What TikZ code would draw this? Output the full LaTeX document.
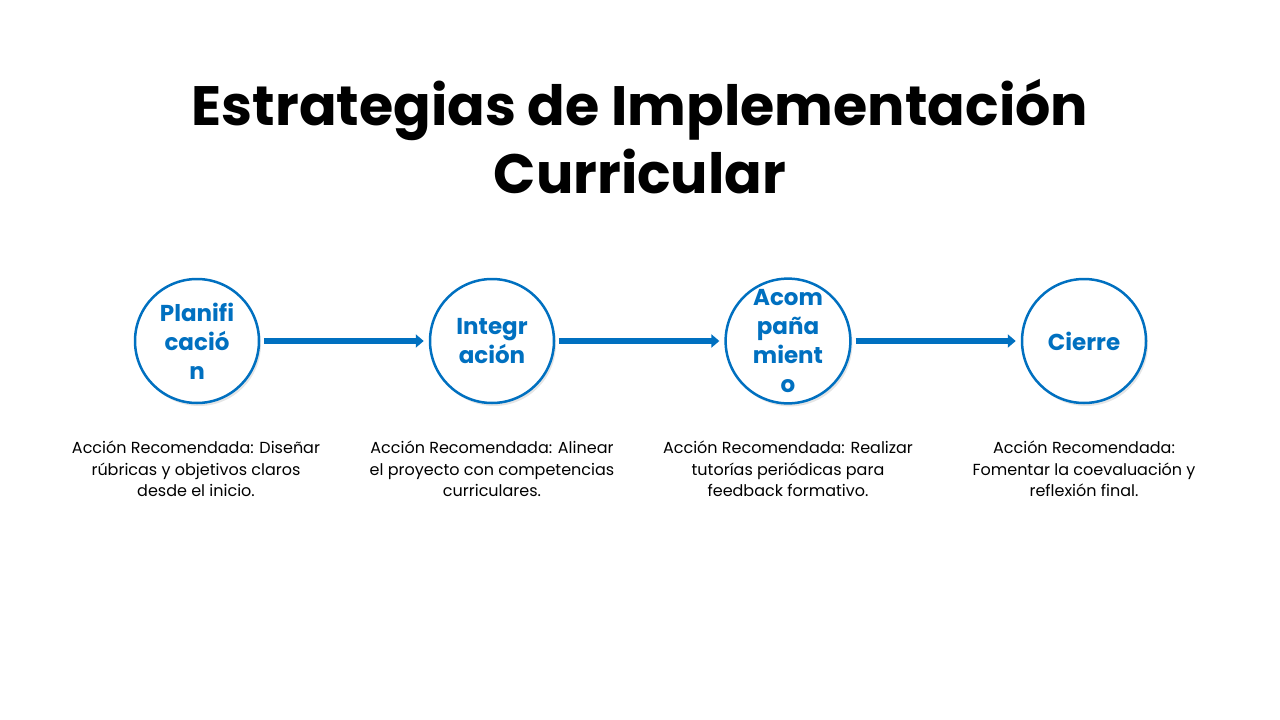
\documentclass[tikz,border=0pt]{standalone}
\usepackage{fontspec}
\setmainfont{Poppins}
\usetikzlibrary{arrows.meta,shadows}
\definecolor{azul}{HTML}{0070C0}
\tikzset{
  etapa/.style={circle, draw=azul, line width=2.5pt, fill=white, minimum size=124pt,
    inner sep=0pt, align=center, text=azul, font=\fontsize{23}{29}\selectfont\bfseries,
    drop shadow={shadow xshift=2pt, shadow yshift=-3pt, fill=black!20}},
  flecha/.style={draw=azul, line width=6.5pt, shorten <=4pt, shorten >=5pt,
    -{Triangle[length=8pt,width=13pt]}},
  accion/.style={align=center, font=\fontsize{16}{21.5}\selectfont}
}
\begin{document}
\begin{tikzpicture}[x=1pt,y=-1pt]
    \useasboundingbox (0,0) rectangle (1280,720);

    % Titulo
    \node[align=center, font=\fontsize{55.5}{68}\selectfont\bfseries] (titulo) at (640,137)
      {Estrategias de Implementación\\Curricular};

    % Etapas
    \node[etapa] (plan) at (197,341) {Planifi\\cació\\n};
    \node[etapa] (integ) at (492,341) {Integr\\ación};
    \node[etapa] (acomp) at (788,341) {Acom\\paña\\mient\\o};
    \node[etapa] (cierre) at (1084,341) {Cierre};

    % Flechas entre etapas
    \draw[flecha] (plan) -- (integ);
    \draw[flecha] (integ) -- (acomp);
    \draw[flecha] (acomp) -- (cierre);

    % Acciones recomendadas
    \node[accion] (accplan) at (196,469) {Acción Recomendada: Diseñar\\rúbricas y objetivos claros\\desde el inicio.};
    \node[accion] (accinteg) at (492,469) {Acción Recomendada: Alinear\\el proyecto con competencias\\curriculares.};
    \node[accion] (accacomp) at (788,469) {Acción Recomendada: Realizar\\tutorías periódicas para\\feedback formativo.};
    \node[accion] (acccierre) at (1084,469) {Acción Recomendada:\\Fomentar la coevaluación y\\reflexión final.};

  \end{tikzpicture}
\end{document}
